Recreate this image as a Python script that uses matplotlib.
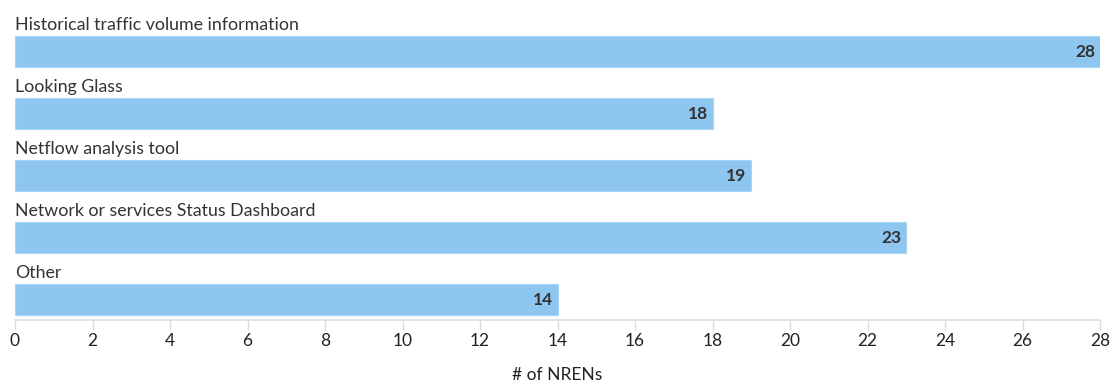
import matplotlib
matplotlib.use("Agg")
import matplotlib.pyplot as plt

categories = [
    "Historical traffic volume information",
    "Looking Glass",
    "Netflow analysis tool",
    "Network or services Status Dashboard",
    "Other",
]
counts = [28, 18, 19, 23, 14]
xticks = list(range(0, 29, 2))

plt.rcParams["font.family"] = ["Lato", "DejaVu Sans"]

fig = plt.figure(figsize=(11.11, 3.83), dpi=100)
ax = fig.add_axes([15 / 1111, 1 - 320 / 383, 1085 / 1111, 315 / 383])

ypos = list(range(len(categories)))
bars = ax.barh(ypos, counts, height=0.5, color="#8dc7f0", edgecolor="#a9d5f4", linewidth=0.8)

for y, name, v in zip(ypos, categories, counts):
    ax.text(0, y - 0.3, name, ha="left", va="bottom", fontsize=12.8, color="#333333")
    ax.text(v - 0.12, y, str(v), ha="right", va="center", fontsize=12.5,
            fontweight="bold", color="#333333")

ax.set_xlim(0, 28)
ax.set_ylim(4.33, -0.75)
ax.set_xticks(xticks)
ax.set_yticks([])
ax.tick_params(axis="x", length=7, width=1, color="#dddddd", labelsize=12.5,
               labelcolor="#222222", pad=2)
for side in ["top", "right", "left"]:
    ax.spines[side].set_visible(False)
ax.spines["bottom"].set_color("#dddddd")
ax.spines["bottom"].set_linewidth(1.2)
ax.set_xlabel("# of NRENs", fontsize=12.5, color="#222222", labelpad=13)

fig.savefig("out.png", dpi=100)
